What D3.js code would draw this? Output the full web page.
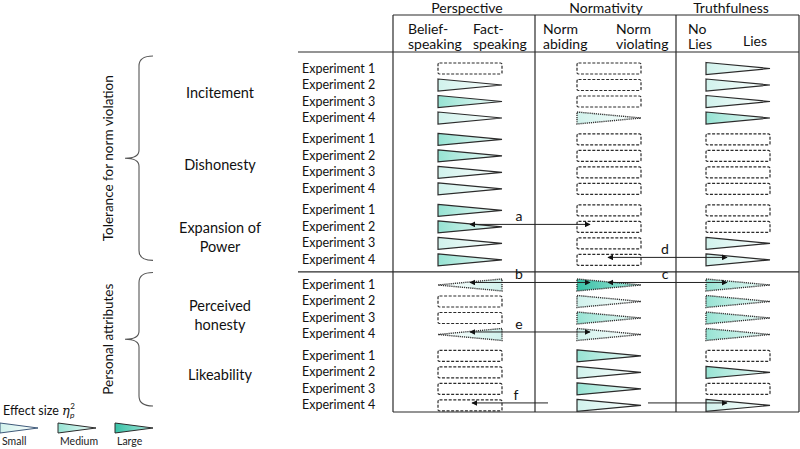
<!DOCTYPE html>
<html>
<head>
<meta charset="utf-8">
<script src="https://cdn.jsdelivr.net/npm/d3@7"></script>
<style>
  body { margin: 0; background: #fff; }
  svg { display: block; font-family: Lato, "Open Sans", sans-serif; }
</style>
</head>
<body>
<svg width="800" height="449"></svg>
<script>
// data
const groups = ["Incitement", "Dishonesty", "Expansion of\nPower", "Perceived\nhonesty", "Likeability"];
const sections = ["Tolerance for norm violation", "Personal attributes"];
const sectionGroups = [[0, 2], [3, 4]];
const experiments = ["Experiment 1", "Experiment 2", "Experiment 3", "Experiment 4"];
const columns = ["Perspective", "Normativity", "Truthfulness"];
const subHeaders = [["Belief-\nspeaking", "Fact-\nspeaking"], ["Norm\nabiding", "Norm\nviolating"], ["No\nLies", "Lies"]];
// effect per row (group x experiment): "-" = n.s., S/M/L = effect size, d = dotted, < = reversed
const perspective = ["-", "S", "M", "S",  "M", "M", "S", "S",  "M", "M", "S", "M",  "dS<", "-", "-", "dS<",  "-", "-", "-", "-"];
const normativity = ["-", "-", "-", "dS", "-", "-", "-", "-",  "-", "-", "-", "-",  "dL", "dS", "dM", "dS",  "M", "S", "M", "S"];
const truthfulness = ["S", "S", "S", "M", "-", "-", "-", "-",  "-", "-", "S", "S",  "dM", "dM", "dM", "dM",  "-", "M", "-", "S"];
const arrowLabels = ["a", "b", "c", "d", "e", "f"];
const arrowGroups = [2, 3, 3, 2, 3, 4];
const arrowExps = [1, 0, 0, 3, 3, 3];
const arrowPairs = ["PN", "PN", "NT", "NT", "PN", "PT"];
const legendSizes = ["Small", "Medium", "Large"];

const svg = d3.select("svg");
const ink = "#2b2b2b";

const slot = (g, i) => g * 4.3 + (g >= 3 ? 0.22 : 0) + i;
const y = d3.scaleLinear().domain([0, 1]).range([68, 84.5]);
const rowY = (g, i) => y(slot(g, i));
const markX = d3.scaleOrdinal().domain(columns).range([438, 577, 706]);
const markW = 64;
const headX = d3.scaleOrdinal().domain(columns).range([467, 606, 731]);

const colors = {
  S: ["#d0f2ec", "#ffffff"],
  M: ["#96e3d3", "#f0fbf9"],
  L: ["#38c1a6", "#a9e8dc"]
};
const defs = svg.append("defs");
Object.keys(colors).forEach(k => {
  [false, true].forEach(rev => {
    const gr = defs.append("linearGradient").attr("id", "g" + k + (rev ? "r" : ""))
      .attr("x1", rev ? 1 : 0).attr("x2", rev ? 0 : 1).attr("y1", 0).attr("y2", 0);
    gr.append("stop").attr("offset", "0%").attr("stop-color", colors[k][0]);
    gr.append("stop").attr("offset", "100%").attr("stop-color", colors[k][1]);
  });
});
["s", "e"].forEach(id => {
  defs.append("marker").attr("id", "arr" + id)
    .attr("viewBox", "0 0 10 10").attr("refX", 9).attr("refY", 5)
    .attr("markerWidth", 6).attr("markerHeight", 6).attr("markerUnits", "userSpaceOnUse")
    .attr("orient", id === "s" ? "auto-start-reverse" : "auto")
    .append("path").attr("d", "M0,0L10,5L0,10Z").attr("fill", "#111");
});

// table frame
const tTop = 15, tHead = 52, tBot = 412, tL = 393, tR = 799;
const sepY = (rowY(2, 3) + rowY(3, 0)) / 2;
const frame = svg.append("g").attr("stroke", ink).attr("stroke-width", 1.2);
frame.append("line").attr("x1", tL).attr("x2", tR).attr("y1", tTop).attr("y2", tTop);
frame.append("line").attr("x1", 298).attr("x2", tR).attr("y1", tHead).attr("y2", tHead);
frame.append("line").attr("x1", 298).attr("x2", tR).attr("y1", sepY).attr("y2", sepY);
frame.append("line").attr("x1", tL).attr("x2", tR).attr("y1", tBot).attr("y2", tBot);
[tL, 535, 676, tR].forEach(x => frame.append("line").attr("x1", x).attr("x2", x).attr("y1", tTop).attr("y2", tBot));

// headers
svg.selectAll(".colhead").data(columns).enter().append("text")
  .attr("x", d => headX(d)).attr("y", 13).attr("text-anchor", "middle")
  .attr("font-size", 14).attr("fill", "#111").text(d => d);

const subX = [[408, 473], [543, 616], [688, 743]];
subHeaders.forEach((pair, c) => {
  pair.forEach((label, k) => {
    const lines = label.split("\n");
    lines.forEach((ln, j) => {
      const yy = lines.length === 1 ? 46 : 33.5 + j * 15.5;
      svg.append("text").attr("font-size", 14).attr("fill", "#111")
        .attr("x", subX[c][k]).attr("y", yy).text(ln);
    });
  });
});

// row labels
const labelShift = [0, 1, 3, 6, -5];
groups.forEach((g, gi) => {
  experiments.forEach((e, ei) => {
    svg.append("text").attr("x", 302).attr("y", rowY(gi, ei) + 4.5)
      .attr("font-size", 12.5).attr("fill", "#111").text(e);
  });
  const lines = g.split("\n");
  const mid = d3.mean(experiments, (e, ei) => rowY(gi, ei)) + labelShift[gi];
  lines.forEach((ln, j) => {
    svg.append("text").attr("text-anchor", "middle").attr("font-size", 14.5).attr("fill", "#111")
      .attr("x", 220).attr("y", mid + 5 + (j - (lines.length - 1) / 2) * 19).text(ln);
  });
});

// braces
sectionGroups.forEach((sg, si) => {
  const top = rowY(sg[0], 0) - 12, bot = rowY(sg[1], 3) + 1;
  const mid = (top + bot) / 2;
  const p = d3.path();
  p.moveTo(153, top);
  p.quadraticCurveTo(139, top, 139, top + 10);
  p.lineTo(139, mid - 8);
  p.quadraticCurveTo(139, mid, 125, mid);
  p.quadraticCurveTo(139, mid, 139, mid + 8);
  p.lineTo(139, bot - 10);
  p.quadraticCurveTo(139, bot, 153, bot);
  svg.append("path").attr("d", p.toString()).attr("fill", "none").attr("stroke", "#555").attr("stroke-width", 1.1);
  svg.append("text").attr("transform", `translate(113,${mid}) rotate(-90)`)
    .attr("text-anchor", "middle").attr("font-size", 13.5).attr("fill", "#111").text(sections[si]);
});

// marks
const colData = { Perspective: perspective, Normativity: normativity, Truthfulness: truthfulness };
columns.forEach(col => {
  colData[col].forEach((code, r) => {
    const gi = Math.floor(r / 4), ei = r % 4;
    const cy = rowY(gi, ei) + 0.5;
    const x0 = markX(col), x1 = x0 + markW;
    if (code === "-") {
      svg.append("rect").attr("x", x0).attr("y", cy - 5.5).attr("width", markW).attr("height", 11)
        .attr("rx", 1.5).attr("fill", "none").attr("stroke", ink).attr("stroke-width", 1.2)
        .attr("stroke-dasharray", "3,1.6");
      return;
    }
    const dotted = code.startsWith("d");
    const rev = code.endsWith("<");
    const size = code.replace("d", "").replace("<", "");
    const h = 6;
    const d = rev ? `M${x1},${cy - h}L${x0},${cy}L${x1},${cy + h}Z` : `M${x0},${cy - h}L${x1},${cy}L${x0},${cy + h}Z`;
    svg.append("path").attr("d", d).attr("fill", `url(#g${size}${rev ? "r" : ""})`)
      .attr("stroke", dotted ? "#333" : ink).attr("stroke-width", dotted ? 1.4 : 1.2)
      .attr("stroke-dasharray", dotted ? "1.2,0.9" : null).attr("stroke-linejoin", "miter");
  });
});

// arrows
const ends = {
  PN: [[markX("Perspective") + 32, markX("Normativity") + 13]],
  NT: [[markX("Normativity") + 31, markX("Truthfulness") + 21]],
  PT: [[markX("Perspective") + 34, null, 548], [null, markX("Truthfulness") + 21, 648]]
};
arrowLabels.forEach((lab, k) => {
  const ay = rowY(arrowGroups[k], arrowExps[k]) - 2;
  const pair = arrowPairs[k];
  if (pair === "PT") {
    const seg = ends.PT;
    svg.append("line").attr("x1", seg[0][0]).attr("x2", seg[0][2]).attr("y1", ay).attr("y2", ay)
      .attr("stroke", "#222").attr("stroke-width", 1).attr("marker-start", "url(#arrs)");
    svg.append("line").attr("x1", seg[1][2]).attr("x2", seg[1][1]).attr("y1", ay).attr("y2", ay)
      .attr("stroke", "#222").attr("stroke-width", 1).attr("marker-end", "url(#arre)");
  } else {
    const [a, b] = ends[pair][0];
    svg.append("line").attr("x1", a).attr("x2", b).attr("y1", ay).attr("y2", ay)
      .attr("stroke", "#222").attr("stroke-width", 1)
      .attr("marker-start", "url(#arrs)").attr("marker-end", "url(#arre)");
  }
  const lx = pair === "NT" ? 665 : (pair === "PT" ? 516 : 519);
  svg.append("text").attr("x", lx).attr("y", ay - 3).attr("text-anchor", "middle")
    .attr("font-size", 14).attr("fill", "#111").text(lab);
});

// legend
const lt = svg.append("text").attr("x", 3).attr("y", 415).attr("font-size", 12.5).attr("fill", "#111");
lt.append("tspan").text("Effect size ");
lt.append("tspan").attr("font-style", "italic").attr("font-family", "DejaVu Serif").attr("font-size", 13).text("η");
lt.append("tspan").attr("font-size", 8).attr("dy", -6).attr("dx", 0.5).text("2");
lt.append("tspan").attr("font-size", 8.5).attr("font-style", "italic").attr("dy", 9).attr("dx", -5).text("p");
const legX = d3.scaleOrdinal().domain(legendSizes).range([0, 58, 115]);
legendSizes.forEach(s => {
  const x0 = legX(s), cy = 428, k = s[0];
  svg.append("path").attr("d", `M${x0},${cy - 5}L${x0 + 38},${cy}L${x0},${cy + 5}Z`)
    .attr("fill", `url(#g${k})`).attr("stroke", k === "S" ? "#3f5a7a" : ink).attr("stroke-width", 1);
  svg.append("text").attr("x", x0 + 2).attr("y", 445).attr("font-size", 10.5).attr("fill", "#222").text(s);
});
</script>
</body>
</html>
